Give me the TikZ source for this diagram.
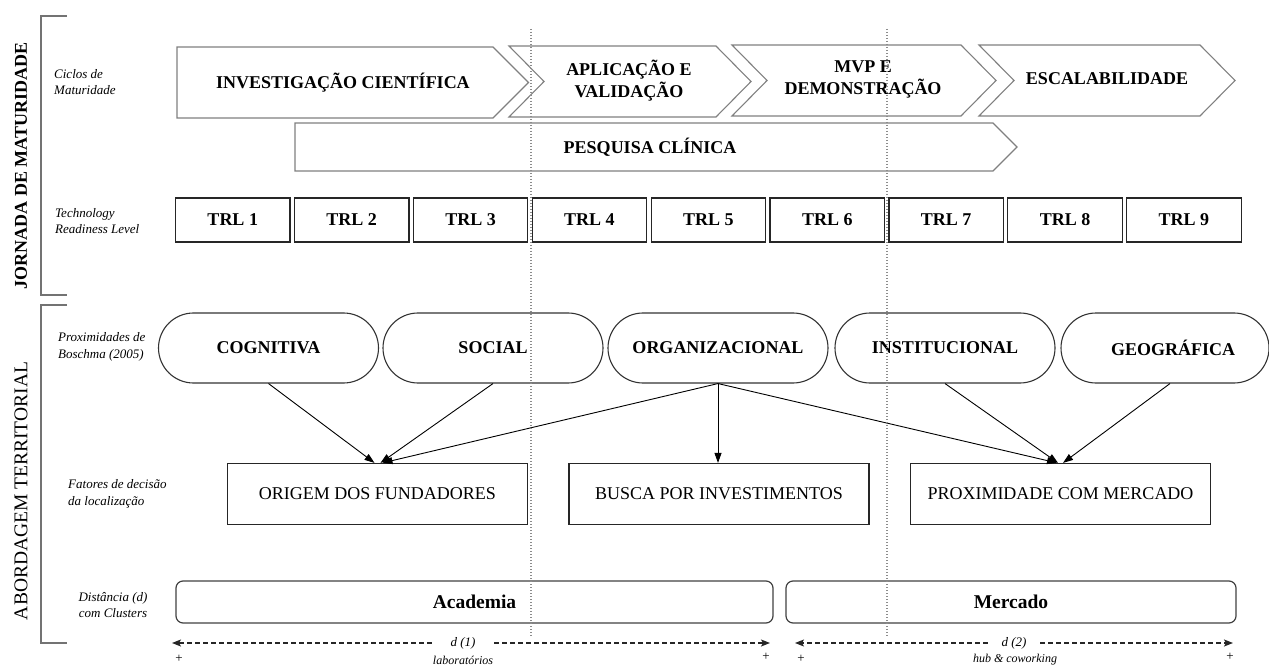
\documentclass[tikz,border=0pt]{standalone}
\usepackage{fontspec}
\setmainfont{Liberation Serif}
\usetikzlibrary{shapes.misc,arrows.meta,calc}
\begin{document}
\begin{tikzpicture}[x=1pt,y=-1pt,
  chev/.style={draw=black!50, line width=1.1pt, fill=white, line join=miter},
  ttl/.style={font=\fontsize{18}{22}\selectfont\bfseries, align=center, inner sep=0pt},
  lbl/.style={font=\fontsize{13}{16.5}\selectfont\itshape, align=left, anchor=west, inner sep=0pt},
  trl/.style={draw=black!85, line width=1.2pt, minimum width=114.5pt, minimum height=44pt, inner sep=0pt, font=\fontsize{18}{20}\selectfont\bfseries},
  prox/.style={rounded rectangle, draw=black!80, line width=1.1pt, minimum width=220pt, minimum height=70pt, inner sep=0pt, font=\fontsize{18}{20}\selectfont\bfseries},
  fator/.style={draw=black!85, line width=1.2pt, minimum width=300pt, minimum height=61pt, inner sep=0pt, font=\fontsize{18}{20}\selectfont},
  clus/.style={draw=black!75, rounded corners=7pt, line width=1.2pt, minimum height=42pt, inner sep=0pt, font=\fontsize{19.5}{22}\selectfont\bfseries},
  arr/.style={-{Triangle[length=10pt,width=7pt]}, line width=0.9pt},
  darr/.style={-{Stealth[length=9pt,width=7pt,inset=2pt]}, dash pattern=on 5pt off 3pt, line width=1.2pt, draw=black!85},
  guide/.style={draw=black!45, line width=1.1pt, dash pattern=on 1pt off 2pt},
  brk/.style={draw=black!55, line width=1.5pt},
  small/.style={font=\fontsize{13}{16}\selectfont, inner sep=0pt}
]
\useasboundingbox (0,0) rectangle (1269,668);

% brackets
\coordinate (b1a) at (67,16); \coordinate (b1b) at (41,16);
\coordinate (b1c) at (41,295); \coordinate (b1d) at (67,295);
\draw[brk] (b1a) -- (b1b) -- (b1c) -- (b1d);
\coordinate (b2a) at (67,305); \coordinate (b2b) at (41,305);
\coordinate (b2c) at (41,643); \coordinate (b2d) at (67,643);
\draw[brk] (b2a) -- (b2b) -- (b2c) -- (b2d);
\node[rotate=90, font=\fontsize{18}{20}\selectfont\bfseries, inner sep=0pt] (jm) at (21,166) {JORNADA DE MATURIDADE};
\node[rotate=90, font=\fontsize{19.5}{22}\selectfont, inner sep=0pt] (at) at (21,491) {ABORDAGEM TERRITORIAL};

% side labels
\node[lbl] (lc) at (54,82) {Ciclos de\\Maturidade};
\node[lbl] (lt) at (55,221) {Technology\\Readiness Level};
\node[lbl] (lp) at (58,347) {Proximidades de\\Boschma (2005)};
\node[lbl] (lf) at (68,494) {Fatores de decisão\\da localização};
\node[lbl, anchor=center, align=center] (ld) at (113,605) {Distância (d)\\com Clusters};

% chevrons
\draw[chev] (177,47) -- (493,47) -- (528.5,82.5) -- (493,118) -- (177,118) -- cycle;
\draw[chev] (509,46) -- (716,46) -- (751,81.5) -- (716,117) -- (509,117) -- (544,81.5) -- cycle;
\draw[chev] (732,45) -- (961,45) -- (996,80.5) -- (961,116) -- (732,116) -- (767,80.5) -- cycle;
\draw[chev] (979,45) -- (1200,45) -- (1235,80.5) -- (1200,116) -- (979,116) -- (1014,80.5) -- cycle;
\draw[chev] (295,123) -- (993,123) -- (1017,147) -- (993,171) -- (295,171) -- cycle;
\node[ttl] (inv) at (343,83) {INVESTIGAÇÃO CIENTÍFICA};
\node[ttl] (apl) at (629,81) {APLICAÇÃO E\\VALIDAÇÃO};
\node[ttl] (mvp) at (863,79) {MVP E\\DEMONSTRAÇÃO};
\node[ttl] (esc) at (1107,79) {ESCALABILIDADE};
\node[ttl] (pc) at (650,147) {PESQUISA CLÍNICA};

% TRL
\foreach \i in {1,...,9}{
  \node[trl] (trl\i) at ({232.75+(\i-1)*118.9},220) {TRL \i};
}

% proximities
\node[prox] (cog) at (268.5,348) {COGNITIVA};
\node[prox] (soc) at (493,348) {SOCIAL};
\node[prox] (org) at (718,348) {ORGANIZACIONAL};
\node[prox] (ins) at (945,348) {INSTITUCIONAL};
\node[prox, minimum width=208pt] (geo) at (1165,348) {\hspace*{16pt}GEOGRÁFICA};

% factors
\node[fator] (ori) at (377.5,494) {ORIGEM DOS FUNDADORES};
\node[fator] (bus) at (719,494) {BUSCA POR INVESTIMENTOS};
\node[fator] (pro) at (1060.5,494) {PROXIMIDADE COM MERCADO};

% arrows
\draw[arr] (cog.south) -- ([xshift=-3pt]ori.north);
\draw[arr] (soc.south) -- ([xshift=3pt]ori.north);
\draw[arr] (org.south) -- ([xshift=5pt]ori.north);
\draw[arr] (org.south) -- (org.south |- bus.north);
\draw[arr] (org.south) -- ([xshift=-3.5pt]pro.north);
\draw[arr] (ins.south) -- ([xshift=-2.5pt]pro.north);
\draw[arr] ([xshift=5pt]geo.south) -- ([xshift=2.5pt]pro.north);

% clusters
\node[clus, minimum width=597pt] (aca) at (474.5,602) {Academia};
\node[clus, minimum width=450pt] (mer) at (1011,602) {Mercado};

% distance arrows
\node[small, font=\fontsize{13}{16}\selectfont\itshape, minimum width=62pt] (d1) at (463,643) {d (1)};
\coordinate (d1l) at (172,643); \coordinate (d1r) at (770,643);
\draw[darr] (d1.west) -- (d1l);
\draw[darr] (d1.east) -- (d1r);
\node[small, font=\fontsize{13}{16}\selectfont\itshape, minimum width=52pt] (d2) at (1014,643) {d (2)};
\coordinate (d2l) at (795,643); \coordinate (d2r) at (1233,643);
\draw[darr] (d2.west) -- (d2l);
\draw[darr] (d2.east) -- (d2r);
\node[small] (p1) at (179,659) {+};
\node[small] (p2) at (766,657) {+};
\node[small] (p3) at (801,659) {+};
\node[small] (p4) at (1230,657) {+};
\node[small, font=\fontsize{12}{14}\selectfont\itshape, anchor=south] (lab) at (463,665) {laboratórios};
\node[small, font=\fontsize{12}{14}\selectfont\itshape, anchor=south] (hub) at (1015,665) {hub \& coworking};

% guides
\coordinate (g1t) at (531,29); \coordinate (g1b) at (531,637);
\coordinate (g2t) at (887,29); \coordinate (g2b) at (887,637);
\draw[guide] (g1t) -- (g1b);
\draw[guide] (g2t) -- (g2b);
\end{tikzpicture}
\end{document}
